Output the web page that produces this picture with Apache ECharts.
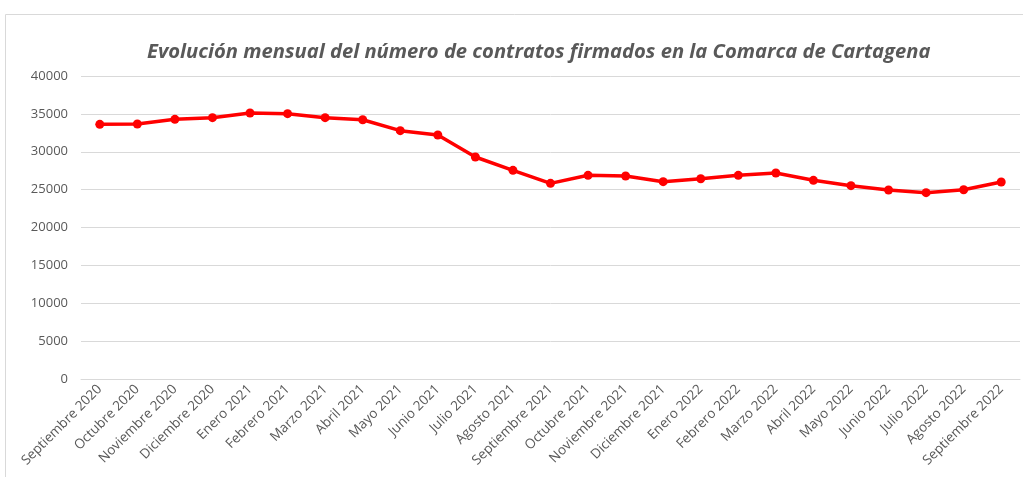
<!DOCTYPE html>
<html><head><meta charset="utf-8">
<script src="https://cdn.jsdelivr.net/npm/echarts@6/dist/echarts.min.js"></script>
<style>html,body{margin:0;padding:0;background:#fff}#c{width:1023px;height:477px}</style>
</head><body><div id="c"></div>
<script>
const categories = ['Septiembre 2020','Octubre 2020','Noviembre 2020','Diciembre 2020','Enero 2021','Febrero 2021','Marzo 2021','Abril 2021','Mayo 2021','Junio 2021','Julio 2021','Agosto 2021','Septiembre 2021','Octubre 2021','Noviembre 2021','Diciembre 2021','Enero 2022','Febrero 2022','Marzo 2022','Abril 2022','Mayo 2022','Junio 2022','Julio 2022','Agosto 2022','Septiembre 2022'];
const contratos = [33620,33660,34280,34500,35110,35030,34500,34230,32780,32210,29310,27550,25830,26890,26800,26050,26440,26890,27190,26230,25520,24950,24600,24990,26010];
const titleText = 'Evolución mensual del número de contratos firmados en la Comarca de Cartagena';

const chart = echarts.init(document.getElementById('c'));
chart.setOption({
  animation: false,
  graphic: [{type:'rect', shape:{x:5.5,y:14.5,width:1030,height:470}, style:{fill:'none', stroke:'#d9d9d9', lineWidth:1}}],
  title: {text: titleText, left: 142, top: 37, textStyle:{fontFamily:'Open Sans', fontStyle:'italic', fontWeight:'bold', fontSize:20.2, color:'#595959'}},
  grid: {left:81, right:3, top:76, bottom:98},
  xAxis: {type:'category', data:categories, boundaryGap:true,
    axisLine:{lineStyle:{color:'#d9d9d9'}}, axisTick:{show:false},
    axisLabel:{rotate:45, interval:0, color:'#595959', fontFamily:'Open Sans', fontSize:13.5, margin:8}},
  yAxis: {type:'value', min:0, max:40000, interval:5000,
    axisLine:{show:false}, axisTick:{show:false},
    splitLine:{lineStyle:{color:'#d9d9d9', width:1}},
    axisLabel:{color:'#595959', fontFamily:'Open Sans', fontSize:13, margin:13, formatter: v => String(v)}},
  series: [{type:'line', data:contratos, symbol:'circle', symbolSize:9,
    lineStyle:{color:'#ff0000', width:3.5}, itemStyle:{color:'#ff0000'}}]
});
</script></body></html>
